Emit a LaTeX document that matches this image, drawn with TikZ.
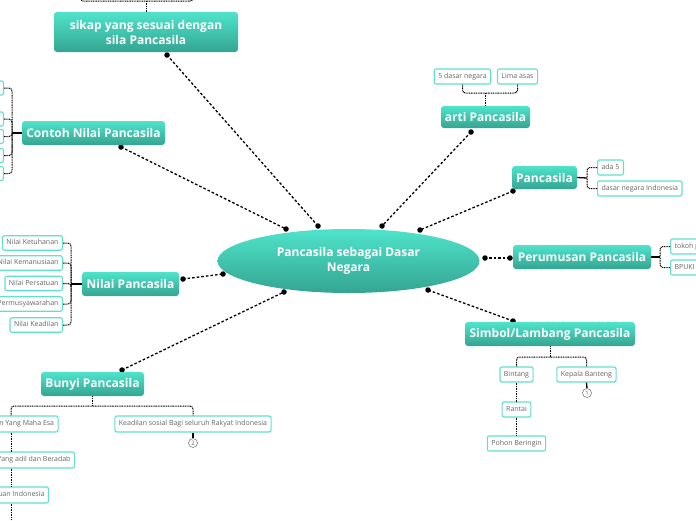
\documentclass[tikz,border=0pt]{standalone}
\usepackage{fontspec}
\setmainfont{Open Sans}
\usetikzlibrary{shapes.geometric}
\definecolor{tealL}{HTML}{4FE3CB}
\definecolor{tealD}{HTML}{34A591}
\definecolor{leafline}{HTML}{62E0CB}
\definecolor{leaftext}{HTML}{666666}
\tikzset{
 mainbox/.style={rectangle, rounded corners=3pt, top color=tealL, bottom color=tealD, draw=none, text=white, font=\bfseries\fontsize{12}{15}\selectfont, inner sep=0pt, align=center},
 leaf/.style={rectangle, rounded corners=2pt, draw=leafline, line width=1.1pt, fill=white, text=leaftext, font=\fontsize{7}{8.5}\selectfont, inner xsep=4pt, inner ysep=0pt, minimum height=14.5pt, text height=5.4pt, text depth=1.5pt},
 conn/.style={line width=1.3pt, dash pattern=on 2.6pt off 2pt},
 brk/.style={line width=1pt, dash pattern=on 1pt off 0.7pt, rounded corners=3pt},
 stub/.style={line width=1.3pt},
 enddot/.style={circle, fill=black, inner sep=0pt, minimum size=5.5pt},
 numc/.style={circle, draw=gray, line width=0.6pt, fill=white, inner sep=0pt, minimum size=9pt, font=\fontsize{6}{6}\selectfont, text=leaftext},
}
\begin{document}
\begin{tikzpicture}[x=1pt,y=-1pt]
\useasboundingbox (0,0) rectangle (696,520);
\clip (0,0) rectangle (696,520);
\fill[white] (0,0) rectangle (696,520);

% ---------- main connectors ----------
\node[enddot] (d1a) at (167,55) {};  \node[enddot] (d1b) at (318,226) {};
\node[enddot] (d2a) at (121,147) {}; \node[enddot] (d2b) at (286,229) {};
\node[enddot] (d3a) at (183,279) {}; \node[enddot] (d3b) at (223,274) {};
\node[enddot] (d4a) at (122,370) {}; \node[enddot] (d4b) at (284,292) {};
\node[enddot] (d5a) at (471,132) {}; \node[enddot] (d5b) at (382,226) {};
\node[enddot] (d6a) at (513,191) {}; \node[enddot] (d6b) at (420,230) {};
\node[enddot] (d7a) at (510,258) {}; \node[enddot] (d7b) at (485,258) {};
\node[enddot] (d8a) at (513,321) {}; \node[enddot] (d8b) at (428,290) {};
\foreach \i in {1,...,8}{\draw[conn] (d\i a.center) -- (d\i b.center);}

% ---------- central ----------
\node[ellipse, top color=tealL, bottom color=tealD, minimum width=262pt, minimum height=64pt, inner sep=0pt, text=white, font=\bfseries\fontsize{12}{15}\selectfont, align=center] (center) at (348.5,261) {Pancasila sebagai Dasar\\Negara};

% ---------- main nodes ----------
\node[mainbox, minimum width=184pt, minimum height=40pt] (sikap) at (146,32) {sikap yang sesuai dengan\\sila Pancasila};
\node[mainbox, minimum width=143pt, minimum height=24pt] (contoh) at (93.5,133) {Contoh Nilai Pancasila};
\node[mainbox, minimum width=97pt, minimum height=24pt] (nilai) at (130.5,284) {Nilai Pancasila};
\node[mainbox, minimum width=103pt, minimum height=24pt] (bunyi) at (92.5,384) {Bunyi Pancasila};
\node[mainbox, minimum width=89pt, minimum height=22pt] (arti) at (485.5,117) {arti Pancasila};
\node[mainbox, minimum width=65pt, minimum height=23pt] (pancasila) at (544.5,177.5) {Pancasila};
\node[mainbox, minimum width=138pt, minimum height=24pt] (perumusan) at (582,257) {Perumusan Pancasila};
\node[mainbox, minimum width=170pt, minimum height=24pt] (simbol) at (550,334) {Simbol/Lambang Pancasila};

% ---------- sikap (children above, off the page) ----------
\coordinate (sk1) at (80,-8); \coordinate (sk2) at (193,-8); \coordinate (skm) at (146,1);
\draw[brk] (sk1) |- (skm) -| (sk2);
\draw[brk] (skm) -- (sikap.north);

% ---------- Contoh Nilai Pancasila ----------
\coordinate (cbr) at (12,133);
\foreach \y [count=\k] in {88,119,136.5,155.5,173.5}{
  \node[leaf, anchor=east, minimum width=40pt, minimum height=14pt] (cl\k) at (4,\y) {};
  \draw[brk] (cl\k.east) -| (cbr);
}
\draw[stub] (cbr) -- (contoh.west);

% ---------- Nilai Pancasila ----------
\node[leaf, anchor=east] (nk1) at (63,243) {Nilai Ketuhanan};
\node[leaf, anchor=east] (nk2) at (63,263) {Nilai Kemanusiaan};
\node[leaf, anchor=east] (nk3) at (63,283.5) {Nilai Persatuan};
\node[leaf, anchor=east] (nk4) at (63,304) {Nilai Permusyawarahan};
\node[leaf, anchor=east] (nk5) at (63,325) {Nilai Keadilan};
\coordinate (nbr) at (71,284);
\foreach \k in {1,...,5}{\draw[brk] (nk\k.east) -| (nbr);}
\draw[stub] (nbr) -- (nilai.west);

% ---------- Bunyi Pancasila ----------
\node[leaf, minimum height=16pt] (b1) at (11,424) {Ketuhanan Yang Maha Esa};
\node[leaf, minimum height=16pt] (b5) at (193,424) {Keadilan sosial Bagi seluruh Rakyat Indonesia};
\node[leaf, minimum height=16pt] (b2) at (11,460) {Kemanusiaan Yang adil dan Beradab};
\node[leaf, minimum height=16pt] (b3) at (11,495) {Persatuan Indonesia};
\coordinate (bbr) at (92.5,406);
\coordinate (bend) at (11,530);
\draw[brk] (b1.north) |- (bbr) -| (b5.north);
\draw[brk] (bunyi.south) -- (bbr);
\draw[brk] (b1.south) -- (b2.north);
\draw[brk] (b2.south) -- (b3.north);
\draw[brk] (b3.south) -- (bend);
\node[numc] (n2) at (193,443) {2};
\draw[stub] (b5.south) -- (n2.north);

% ---------- arti Pancasila ----------
\node[leaf, minimum height=15pt] (a1) at (462.5,76.5) {5 dasar negara};
\node[leaf, minimum height=15pt] (a2) at (517.5,76.5) {Lima asas};
\coordinate (abr) at (485.5,93);
\draw[brk] (a1.south) |- (abr) -| (a2.south);
\draw[brk] (abr) -- (arti.north);

% ---------- Pancasila ----------
\node[leaf, anchor=west, minimum height=15pt] (p1) at (597,167.5) {ada 5};
\node[leaf, anchor=west, minimum height=15pt] (p2) at (597,188.5) {dasar negara Indonesia};
\coordinate (pbr) at (587,178);
\draw[brk] (p1.west) -| (pbr);
\draw[brk] (p2.west) -| (pbr);
\draw[stub] (pancasila.east) -- (pbr);

% ---------- Perumusan Pancasila ----------
\node[leaf, anchor=west, minimum height=15pt] (r1) at (670,246.5) {tokoh p\hspace{30pt}};
\node[leaf, anchor=west, minimum height=15pt] (r2) at (670,267.5) {BPUKI\hspace{30pt}};
\coordinate (rbr) at (660,257);
\draw[brk] (r1.west) -| (rbr);
\draw[brk] (r2.west) -| (rbr);
\draw[stub] (perumusan.east) -- (rbr);

% ---------- Simbol/Lambang Pancasila ----------
\node[leaf, minimum height=15pt] (s1) at (516.5,374.5) {Bintang};
\node[leaf, minimum height=15pt] (s2) at (586.5,374.5) {Kepala Banteng};
\node[leaf, minimum height=15pt] (s3) at (516.5,409.5) {Rantai};
\node[leaf, minimum height=15pt] (s4) at (516.5,443.5) {Pohon Beringin};
\coordinate (sbr) at (550,357);
\draw[brk] (s1.north) |- (sbr) -| (s2.north);
\draw[brk] (simbol.south) -- (sbr);
\draw[brk] (s1.south) -- (s3.north);
\draw[brk] (s3.south) -- (s4.north);
\node[numc] (n1) at (587,393) {1};
\draw[stub] (s2.south) -- (n1.north);
\end{tikzpicture}
\end{document}
